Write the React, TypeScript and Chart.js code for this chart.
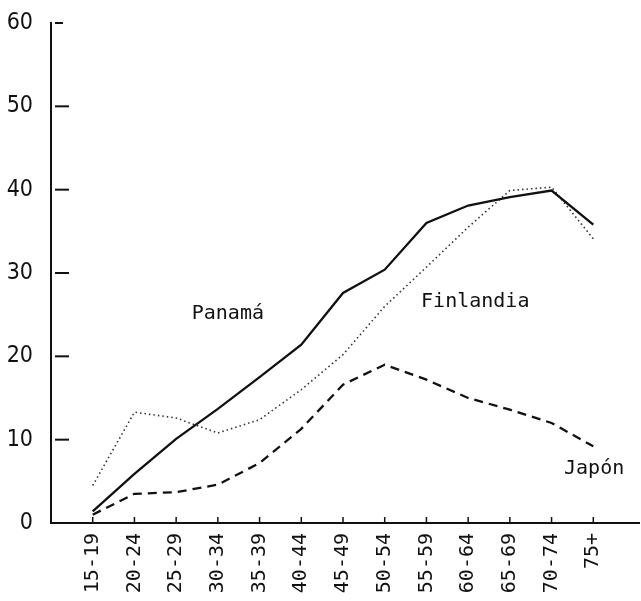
import React, { useEffect, useRef } from "react";
import { Chart, registerables } from "chart.js";

Chart.register(...registerables);

// ---- data ----
const AGE_GROUPS = ["15-19", "20-24", "25-29", "30-34", "35-39", "40-44", "45-49", "50-54", "55-59", "60-64", "65-69", "70-74", "75+"];
const PANAMA = [1.4, 5.9, 10.1, 13.7, 17.5, 21.4, 27.6, 30.4, 36.0, 38.1, 39.1, 39.9, 35.8];
const JAPON = [1.0, 3.5, 3.7, 4.6, 7.2, 11.3, 16.6, 19.0, 17.2, 15.0, 13.6, 12.0, 9.2];
const FINLANDIA = [4.5, 13.3, 12.6, 10.8, 12.4, 16.0, 20.2, 26.0, 30.7, 35.5, 39.9, 40.3, 34.1];
const Y_MIN = 0;
const Y_MAX = 60;
const Y_STEP = 10;
const SERIES_NAMES = ["Panamá", "Japón", "Finlandia"];
// label anchors in data units: [category index (1-based in padded axis), value]
const LABEL_ANCHORS: [number, number][] = [
  [4.24, 25.1],
  [13.02, 6.5],
  [10.17, 26.5],
];

const MONO = "'DejaVu Sans Mono', 'Liberation Mono', monospace";
const NARROW = "'Liberation Sans Narrow', 'DejaVu Sans Condensed', 'DejaVu Sans Mono', monospace";

const pad = (arr: (number | null)[]) => [null, ...arr, null];

const decorPlugin = {
  id: "decor",
  afterDatasetsDraw(chart: any) {
    const ctx = chart.ctx as CanvasRenderingContext2D;
    const x = chart.scales.x;
    const y = chart.scales.y;
    const { left, right, bottom } = chart.chartArea;
    ctx.save();
    ctx.strokeStyle = "#111";
    // extend x axis line a little past the last slot
    ctx.lineWidth = 2;
    ctx.beginPath();
    ctx.moveTo(right - 1, bottom);
    ctx.lineTo(right + 5, bottom);
    ctx.stroke();
    // inward y ticks
    for (let v = Y_MIN + Y_STEP; v <= Y_MAX; v += Y_STEP) {
      const py = y.getPixelForValue(v);
      ctx.beginPath();
      ctx.moveTo(left + 4, py);
      ctx.lineTo(left + (v === Y_MAX ? 12 : 18), py);
      ctx.stroke();
    }
    // inward x ticks
    ctx.lineWidth = 1.5;
    for (let i = 1; i <= AGE_GROUPS.length; i++) {
      const px = x.getPixelForValue(i);
      ctx.beginPath();
      ctx.moveTo(px, bottom);
      ctx.lineTo(px, bottom - 6);
      ctx.stroke();
    }
    // series labels
    ctx.fillStyle = "#111";
    ctx.font = `20px ${MONO}`;
    ctx.textAlign = "center";
    ctx.textBaseline = "middle";
    SERIES_NAMES.forEach((name, k) => {
      const [ix, v] = LABEL_ANCHORS[k];
      ctx.fillText(name, x.getPixelForValue(ix), y.getPixelForValue(v));
    });
    ctx.restore();
  },
};

export default function App() {
  const ref = useRef<HTMLCanvasElement | null>(null);

  useEffect(() => {
    if (!ref.current) return;
    const chart = new Chart(ref.current, {
      type: "line",
      data: {
        labels: ["", ...AGE_GROUPS, ""],
        datasets: [
          {
            label: SERIES_NAMES[0],
            data: pad(PANAMA),
            borderColor: "#111",
            borderWidth: 2.3,
            pointRadius: 0,
            tension: 0,
          },
          {
            label: SERIES_NAMES[1],
            data: pad(JAPON),
            borderColor: "#111",
            borderWidth: 2.3,
            borderDash: [9, 6],
            pointRadius: 0,
            tension: 0,
          },
          {
            label: SERIES_NAMES[2],
            data: pad(FINLANDIA),
            borderColor: "#333",
            borderWidth: 1.6,
            borderDash: [1.5, 3],
            pointRadius: 0,
            tension: 0,
          },
        ],
      },
      options: {
        responsive: false,
        animation: false,
        devicePixelRatio: 1,
        layout: { padding: { top: 23, right: 6, left: 0, bottom: 0 } },
        plugins: {
          legend: { display: false },
          tooltip: { enabled: false },
        },
        scales: {
          x: {
            type: "category",
            offset: false,
            grid: { drawOnChartArea: false, drawTicks: false },
            border: { display: true, color: "#111", width: 2 },
            ticks: {
              autoSkip: false,
              minRotation: 90,
              maxRotation: 90,
              padding: 10,
              color: "#111",
              font: { family: MONO, size: 20 },
            },
            afterFit: (scale: any) => {
              scale.height = 78;
              scale.paddingLeft = 0;
              scale.paddingRight = 0;
            },
          },
          y: {
            min: Y_MIN,
            max: Y_MAX,
            grid: { drawOnChartArea: false, drawTicks: false },
            border: { display: true, color: "#111", width: 2 },
            ticks: {
              stepSize: Y_STEP,
              padding: 18,
              color: "#111",
              font: { family: NARROW, size: 23 },
            },
            afterFit: (scale: any) => {
              scale.width = 51;
              scale.paddingTop = 0;
              scale.paddingBottom = 0;
            },
          },
        },
      },
      plugins: [decorPlugin],
    });
    return () => chart.destroy();
  }, []);

  return (
    <div style={{ position: "fixed", left: 0, top: 0, width: 641, height: 601, background: "#fff" }}>
      <canvas ref={ref} width={641} height={601} />
    </div>
  );
}
